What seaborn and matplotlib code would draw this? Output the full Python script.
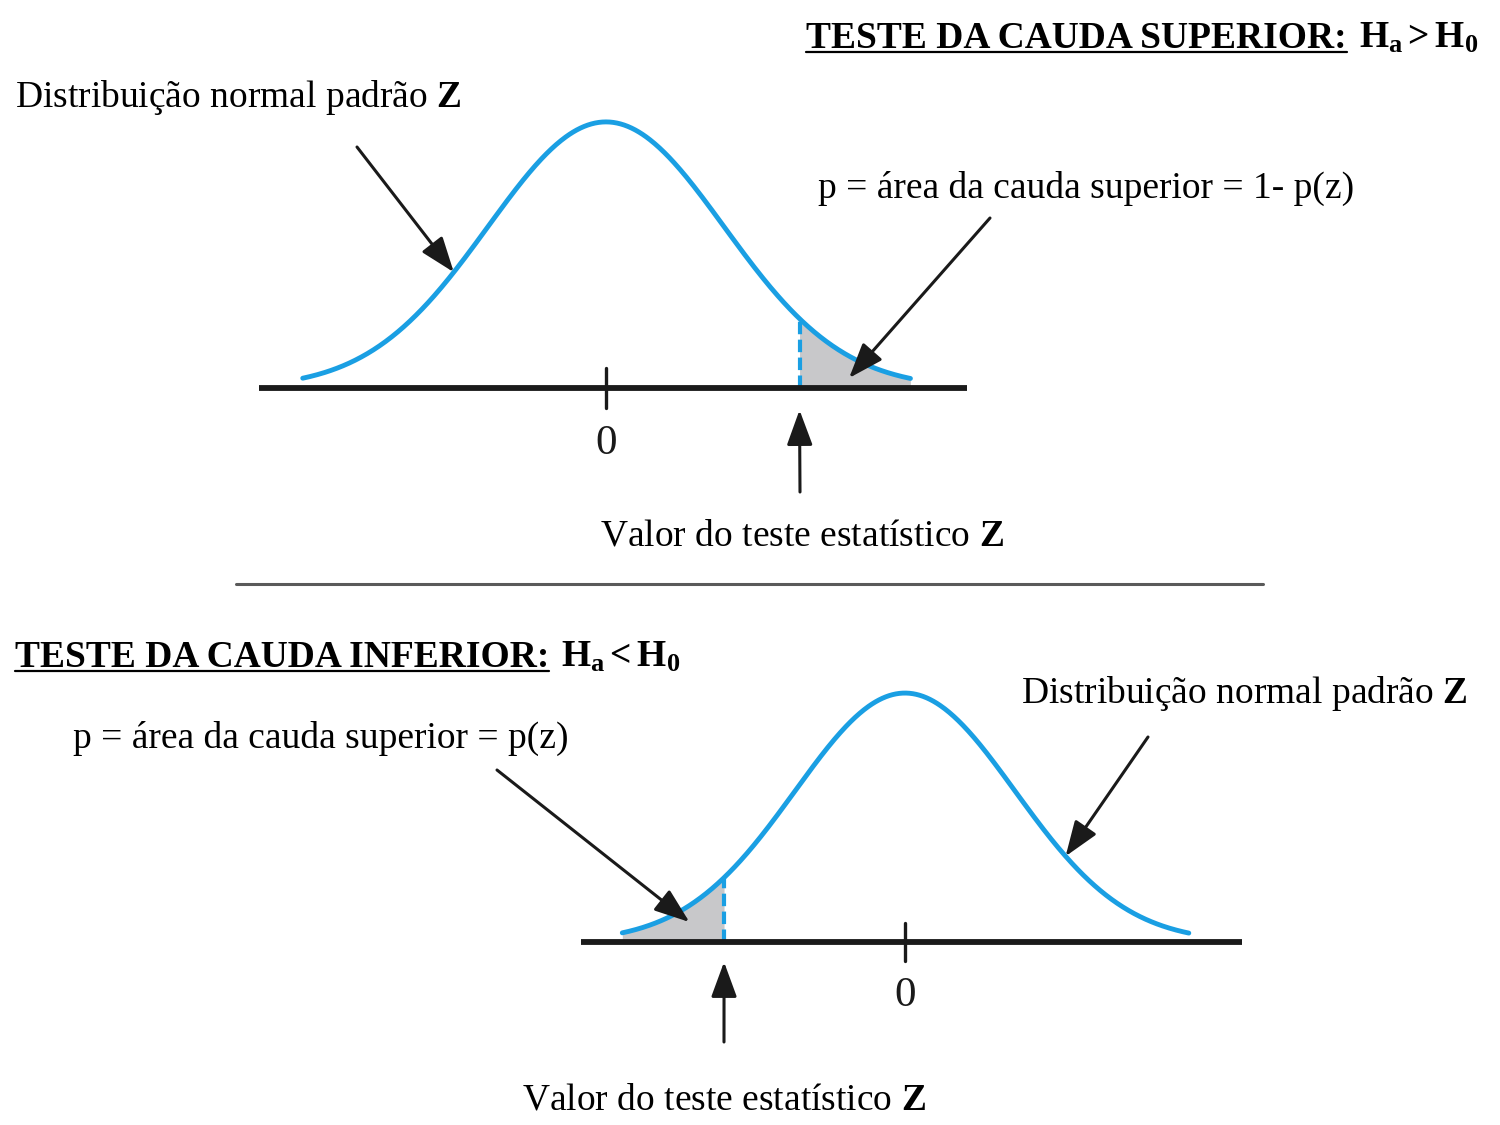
import matplotlib
matplotlib.use('Agg')
import matplotlib.pyplot as plt
import numpy as np
import seaborn as sns
from matplotlib.lines import Line2D

sns.set_theme(style='white')
plt.rcParams['font.family'] = ['Liberation Serif', 'DejaVu Serif']
plt.rcParams['mathtext.fontset'] = 'custom'
plt.rcParams['mathtext.rm'] = 'Liberation Serif'
plt.rcParams['mathtext.it'] = 'Liberation Serif:italic'
plt.rcParams['mathtext.bf'] = 'Liberation Serif:bold'

# --- chart values ---
curve_range = [-2.57, 2.58]          # z range of the drawn density
axis_upper = [-2.94, 3.06]           # z range of the horizontal axis, top panel
axis_lower = [-2.95, 3.06]           # z range of the horizontal axis, bottom panel
z_stat_upper = 1.64                  # test statistic, upper tail
z_stat_lower = -1.645                # test statistic, lower tail
tick_label = '0'
titles = ['TESTE DA CAUDA SUPERIOR:', 'TESTE DA CAUDA INFERIOR:']
hypotheses = [r'$\mathbf{H_a > H_0}$', r'$\mathbf{H_a < H_0}$']
dist_label = r'Distribuição normal padrão $\mathbf{Z}$'
p_labels = ['p = área da cauda superior = 1- p(z)',
            'p = área da cauda superior = p(z)']
stat_label = r'Valor do teste estatístico $\mathbf{Z}$'

BLUE = '#1a9fe3'
GREY = '#c8c8ca'
INK = '#1a1a1a'
W, H = 1500, 1125
FS = 27

fig = plt.figure(figsize=(15, 11.25), dpi=100)


def pdf(z):
    return np.exp(-np.asarray(z) ** 2 / 2) / np.sqrt(2 * np.pi)


def place_axes(cx, base_y, sx, sy, xlim=(-3.2, 3.2), ylim=(-0.2, 0.45)):
    # cx/base_y: pixel position of z=0 on the baseline, sx/sy: pixels per unit
    left = cx + xlim[0] * sx
    width = (xlim[1] - xlim[0]) * sx
    top = base_y - ylim[1] * sy
    bottom = base_y - ylim[0] * sy
    ax = fig.add_axes([left / W, 1 - bottom / H, width / W, (bottom - top) / H])
    ax.set_xlim(xlim)
    ax.set_ylim(ylim)
    ax.axis('off')
    return ax


def draw_panel(ax, z_stat, tail, axis_range):
    z = np.linspace(curve_range[0], curve_range[1], 500)
    y = pdf(z)
    zs = np.linspace(z_stat, curve_range[1], 200) if tail == 'upper' \
        else np.linspace(curve_range[0], z_stat, 200)
    ax.fill_between(zs, 0, pdf(zs), color=GREY, lw=0, zorder=1)
    sns.lineplot(x=z, y=y, ax=ax, color=BLUE, lw=3.5, zorder=3)
    ax.plot([z_stat, z_stat], [0, pdf(z_stat)], color=BLUE, lw=3.0,
            ls=(0, (3.0, 1.3)), zorder=2)
    ax.plot(axis_range, [0, 0], color=INK, lw=4.2, solid_capstyle='butt', zorder=4)
    ax.plot([0, 0], [-0.03, 0.03], color=INK, lw=2.4, zorder=4)
    ax.text(0, -0.055, tick_label, ha='center', va='top', fontsize=31, color=INK)


def arrow(ax, xy, tail_px):
    ax.annotate('', xy=xy, xytext=(tail_px[0], H - tail_px[1]),
                textcoords='figure pixels',
                arrowprops=dict(arrowstyle='-|>,head_length=0.6,head_width=0.22',
                                mutation_scale=36, color=INK, lw=2.2,
                                shrinkA=0, shrinkB=0))


def ftext(x, y, s, **kw):
    kw.setdefault('fontsize', FS)
    kw.setdefault('va', 'baseline')
    kw.setdefault('color', 'black')
    return fig.text(x / W, 1 - y / H, s, **kw)


# --- top panel: upper tail ---
ax1 = place_axes(606, 388, 118, 667)
draw_panel(ax1, z_stat_upper, 'upper', axis_upper)
arrow(ax1, (-1.29, pdf(-1.29)), (357, 147))
arrow(ax1, (2.06, 0.015), (990, 218))
arrow(ax1, (z_stat_upper, -0.033), (800, 492))

# --- bottom panel: lower tail ---
ax2 = place_axes(905, 942, 110, 624)
draw_panel(ax2, z_stat_lower, 'lower', axis_lower)
arrow(ax2, (1.46, pdf(1.46)), (1148, 737))
arrow(ax2, (-1.96, 0.032), (497, 770))
arrow(ax2, (z_stat_lower, -0.032), (724, 1042))

# --- labels ---
ftext(15, 107, dist_label, ha='left')
ftext(818, 198, p_labels[0], ha='left')
ftext(802, 545, stat_label, ha='center')
ftext(1021, 703, dist_label, ha='left')
ftext(73, 748, p_labels[1], ha='left')
ftext(724, 1109, stat_label, ha='center')

# divider
fig.add_artist(Line2D([236 / W, 1263 / W], [1 - 584 / H, 1 - 584 / H],
                     color='#5a5a5a', lw=2.2))

# --- headers with underlined part ---
renderer = fig.canvas.get_renderer()
HFS = 27

# top header, right aligned
hyp1 = ftext(1478, 48, hypotheses[0], ha='right', fontsize=HFS)
bb = hyp1.get_window_extent(renderer)
t1 = ftext(bb.x0 - 12, 48, titles[0], ha='right', fontsize=HFS, weight='bold')
bb1 = t1.get_window_extent(renderer)
fig.add_artist(Line2D([bb1.x0 / W, bb1.x1 / W], [1 - 52 / H, 1 - 52 / H],
                      color='black', lw=1.6))

# bottom header, left aligned
t2 = ftext(15, 667, titles[1], ha='left', fontsize=HFS, weight='bold')
bb2 = t2.get_window_extent(renderer)
fig.add_artist(Line2D([bb2.x0 / W, bb2.x1 / W], [1 - 671 / H, 1 - 671 / H],
                      color='black', lw=1.6))
ftext(bb2.x1 + 12, 667, hypotheses[1], ha='left', fontsize=HFS)

fig.savefig('out.png', dpi=100, facecolor='white')
